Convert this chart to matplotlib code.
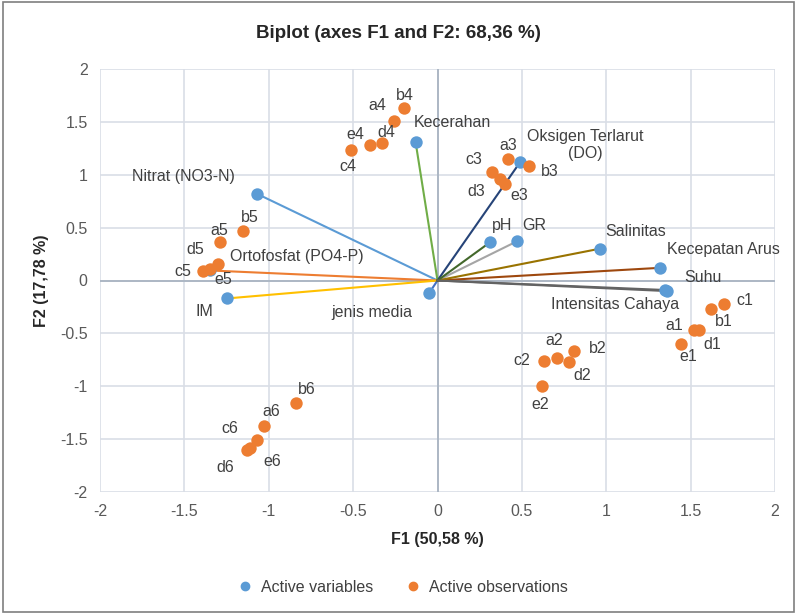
import matplotlib
matplotlib.use('Agg')
import matplotlib.pyplot as plt
from matplotlib.lines import Line2D
import numpy as np

plt.rcParams['font.family'] = ['Liberation Sans', 'DejaVu Sans']

# variabel aktif (koordinat F1, F2)
var_names = ['Nitrat (NO3-N)', 'Ortofosfat (PO4-P)', 'GR', 'IM', 'jenis media',
             'Kecerahan', 'Oksigen Terlarut\n(DO)', 'Kecepatan Arus',
             'Intensitas Cahaya', 'Salinitas', 'pH', 'Suhu']
var_x = [-1.07, -1.35, 0.47, -1.25, -0.05, -0.13, 0.49, 1.32, 1.35, 0.96, 0.31, 1.36]
var_y = [0.82, 0.095, 0.37, -0.17, -0.12, 1.31, 1.12, 0.12, -0.09, 0.30, 0.36, -0.10]
var_colors = ['#5B9BD5', '#ED7D31', '#A5A5A5', '#FFC000', '#4472C4', '#70AD47',
              '#264478', '#9E480E', '#636363', '#997300', '#43682B', '#636363']
# offset label (pixel)
var_off = [(-73, 17), (87, 14), (17, 16), (-22, -13), (-57, -19), (37, 19),
           (65, 17), (63, 18), (-50, -14), (36, 17), (12, 17), (36, 14)]

# observasi aktif
obs_names = ['a1', 'b1', 'c1', 'd1', 'e1',
             'a2', 'b2', 'c2', 'd2', 'e2',
             'a3', 'b3', 'c3', 'd3', 'e3',
             'a4', 'b4', 'c4', 'd4', 'e4',
             'a5', 'b5', 'c5', 'd5', 'e5',
             'a6', 'b6', 'c6', 'd6', 'e6']
obs_x = [1.52, 1.62, 1.70, 1.55, 1.44,
         0.71, 0.81, 0.63, 0.78, 0.62,
         0.42, 0.54, 0.32, 0.37, 0.40,
         -0.26, -0.20, -0.51, -0.33, -0.40,
         -1.29, -1.15, -1.39, -1.30, -1.35,
         -1.03, -0.84, -1.11, -1.13, -1.07]
obs_y = [-0.47, -0.27, -0.22, -0.47, -0.60,
         -0.73, -0.67, -0.76, -0.77, -1.00,
         1.15, 1.08, 1.03, 0.96, 0.91,
         1.51, 1.63, 1.23, 1.30, 1.28,
         0.36, 0.47, 0.09, 0.16, 0.11,
         -1.38, -1.16, -1.58, -1.60, -1.51]
obs_off = [(-20, 5), (13, -12), (20, 3), (13, -14), (8, -13),
           (-3, 17), (24, 3), (-22, 0), (13, -14), (-2, -18),
           (0, 13), (21, -5), (-18, 12), (-24, -13), (14, -11),
           (-16, 15), (1, 13), (-4, -16), (5, 11), (-15, 11),
           (-1, 12), (6, 13), (-20, -1), (-23, 14), (14, -11),
           (8, 15), (11, 14), (-20, 19), (-22, -18), (15, -21)]

ticks = [-2, -1.5, -1, -0.5, 0, 0.5, 1, 1.5, 2]
tick_labels = ['-2', '-1.5', '-1', '-0.5', '0', '0.5', '1', '1.5', '2']

fs = 11.5

fig = plt.figure(figsize=(7.97, 6.13), dpi=100)
ax = fig.add_axes([100 / 797, 1 - 492 / 613, 675 / 797, 423 / 613])

ax.set_xlim(-2, 2)
ax.set_ylim(-2, 2)
ax.set_xticks(ticks)
ax.set_yticks(ticks)
ax.set_xticklabels(tick_labels)
ax.set_yticklabels(tick_labels)
ax.tick_params(length=0, labelsize=fs, colors='#595959', pad=9)
ax.grid(color='#D9DEE6', linewidth=1.2)
ax.set_axisbelow(True)
for s in ax.spines.values():
    s.set_visible(False)
ax.axhline(0, color='#A9B4C2', lw=1.3, zorder=1)
ax.axvline(0, color='#A9B4C2', lw=1.3, zorder=1)

# garis vektor variabel
for i in range(len(var_names)):
    ax.plot([0, var_x[i]], [0, var_y[i]], color=var_colors[i], lw=1.5, zorder=2)

ax.scatter(obs_x, obs_y, s=80, color='#ED7D31', zorder=4, linewidths=0)
ax.scatter(var_x, var_y, s=80, color='#5B9BD5', zorder=3, linewidths=0)

for i, n in enumerate(var_names):
    ax.annotate(n, (var_x[i], var_y[i]), xytext=var_off[i], textcoords='offset pixels',
                ha='center', va='center', fontsize=fs, color='#404040',
                multialignment='center', linespacing=1.1, zorder=5)
for i, n in enumerate(obs_names):
    ax.annotate(n, (obs_x[i], obs_y[i]), xytext=obs_off[i], textcoords='offset pixels',
                ha='center', va='center', fontsize=fs, color='#404040', zorder=5)

ax.set_xlabel('F1 (50,58 %)', fontsize=fs, fontweight='bold', color='#262626', labelpad=9)
ax.set_ylabel('F2 (17,78 %)', fontsize=fs, fontweight='bold', color='#262626', labelpad=8)
fig.text(0.5, 1 - 33 / 613, 'Biplot (axes F1 and F2: 68,36 %)', ha='center', va='center',
         fontsize=13.5, fontweight='bold', color='#262626')

handles = [Line2D([], [], marker='o', ls='', color='#5B9BD5', markersize=6),
           Line2D([], [], marker='o', ls='', color='#ED7D31', markersize=6)]
fig.legend(handles, ['Active variables', 'Active observations'], loc='center',
           bbox_to_anchor=(0.5, 1 - 587 / 613), ncol=2, frameon=False, fontsize=fs,
           handletextpad=0.0, columnspacing=1.5, labelcolor='#404040')

# bingkai
fig.patches.append(plt.Rectangle((0.004, 0.002), 0.992, 0.994, transform=fig.transFigure,
                                 fill=False, edgecolor='#7F7F7F', lw=1.2))

fig.savefig('out.png', dpi=100)
